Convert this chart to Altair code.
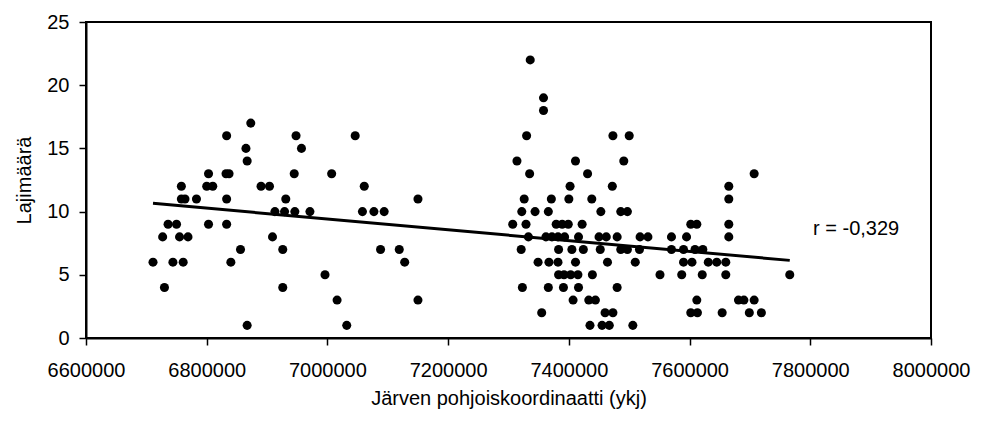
import altair as alt
import pandas as pd

# West cluster of lakes
west_north = [6873000, 6833000, 6948000, 6865000, 6957000, 6867000,
              6803000, 6832000, 6837000, 6945000,
              6758000, 6800000, 6810000, 6890000, 6904000,
              6758000, 6764000, 6783000, 6833000, 6931000,
              6913000, 6929000, 6946000, 6971000, 7058000, 7077000, 7094000,
              6736000, 6750000, 6803000, 6833000,
              6727000, 6755000, 6769000, 6909000,
              6856000, 6926000, 7088000, 7119000,
              6711000, 6744000, 6761000, 6840000, 7128000,
              6996000,
              6730000, 6926000,
              7016000, 7150000,
              6867000, 7032000,
              7046000, 7007000, 7061000, 7150000]
west_species = [17, 16, 16, 15, 15, 14,
                13, 13, 13, 13,
                12, 12, 12, 12, 12,
                11, 11, 11, 11, 11,
                10, 10, 10, 10, 10, 10, 10,
                9, 9, 9, 9,
                8, 8, 8, 8,
                7, 7, 7, 7,
                6, 6, 6, 6, 6,
                5,
                4, 4,
                3, 3,
                1, 1,
                16, 13, 12, 11]

# East cluster of lakes
east_north = [7336000,
              7358000,
              7358000,
              7330000, 7473000, 7500000,
              7314000, 7411000, 7491000,
              7335000, 7431000, 7707000,
              7402000, 7472000, 7665000,
              7326000, 7371000, 7400000, 7438000, 7665000,
              7322000, 7344000, 7366000, 7453000, 7486000, 7497000,
              7307000, 7329000, 7379000, 7389000, 7399000, 7422000, 7602000, 7612000, 7665000,
              7333000, 7362000, 7372000, 7382000, 7393000, 7416000, 7450000, 7462000, 7480000,
              7518000, 7531000, 7570000, 7595000, 7665000,
              7321000, 7383000, 7405000, 7424000, 7452000, 7486000, 7497000, 7517000, 7570000,
              7590000, 7609000, 7622000,
              7349000, 7367000, 7382000, 7411000, 7464000, 7510000, 7590000, 7604000, 7631000,
              7645000, 7660000,
              7383000, 7392000, 7403000, 7415000, 7439000, 7551000, 7587000, 7621000, 7660000, 7766000,
              7323000, 7366000, 7391000, 7416000, 7480000,
              7407000, 7433000, 7444000, 7612000, 7681000, 7690000, 7707000,
              7355000, 7460000, 7473000, 7602000, 7613000, 7654000, 7699000, 7719000,
              7435000, 7455000, 7467000, 7506000]
east_species = [22,
                19,
                18,
                16, 16, 16,
                14, 14, 14,
                13, 13, 13,
                12, 12, 12,
                11, 11, 11, 11, 11,
                10, 10, 10, 10, 10, 10,
                9, 9, 9, 9, 9, 9, 9, 9, 9,
                8, 8, 8, 8, 8, 8, 8, 8, 8,
                8, 8, 8, 8, 8,
                7, 7, 7, 7, 7, 7, 7, 7, 7,
                7, 7, 7,
                6, 6, 6, 6, 6, 6, 6, 6, 6,
                6, 6,
                5, 5, 5, 5, 5, 5, 5, 5, 5, 5,
                4, 4, 4, 4, 4,
                3, 3, 3, 3, 3, 3, 3,
                2, 2, 2, 2, 2, 2, 2, 2,
                1, 1, 1, 1]

x_ticks = [6600000, 6800000, 7000000, 7200000, 7400000, 7600000, 7800000, 8000000]
y_ticks = [0, 5, 10, 15, 20, 25]

r_label = ["r = -0,329"]
r_north = [7804600]
r_species = [8.6]

df = pd.DataFrame({"north": west_north + east_north,
                   "species": west_species + east_species})
ann = pd.DataFrame({"north": r_north, "species": r_species, "label": r_label})

FONT = "Liberation Sans"

x_enc = alt.X("north:Q",
              scale=alt.Scale(domain=[6600000, 8000000], nice=False, zero=False),
              axis=alt.Axis(values=x_ticks, format="d",
                            title="Järven pohjoiskoordinaatti (ykj)",
                            labelPadding=15, titlePadding=8))
y_enc = alt.Y("species:Q",
              scale=alt.Scale(domain=[0, 25], nice=False),
              axis=alt.Axis(values=y_ticks, title="Lajimäärä",
                            labelPadding=10, titlePadding=12))

points = alt.Chart(df).mark_circle(size=82, color="black", opacity=1).encode(x=x_enc, y=y_enc)

trend = alt.Chart(df).transform_regression("north", "species").mark_line(
    color="black", strokeWidth=3).encode(x=x_enc, y=y_enc)

label = alt.Chart(ann).mark_text(align="left", baseline="middle", font=FONT,
                                 fontSize=20, color="black").encode(
    x="north:Q", y="species:Q", text="label:N")

chart = alt.layer(points, trend, label).properties(
    width=845, height=316,
    autosize=alt.AutoSizeParams(type="none"),
    padding={"left": 86, "top": 22, "right": 51, "bottom": 83},
    background="white",
).configure_view(
    stroke="black", strokeWidth=2
).configure_axis(
    grid=False,
    labelFont=FONT, labelFontSize=20, labelColor="black",
    titleFont=FONT, titleFontSize=20, titleFontWeight="normal", titleColor="black",
    domainColor="black", domainWidth=2,
    tickColor="black", tickSize=7, tickWidth=1.5,
    labelFlush=False, labelOverlap=False,
)

chart.save("out.html", embed_options={"renderer": "svg", "actions": False})
